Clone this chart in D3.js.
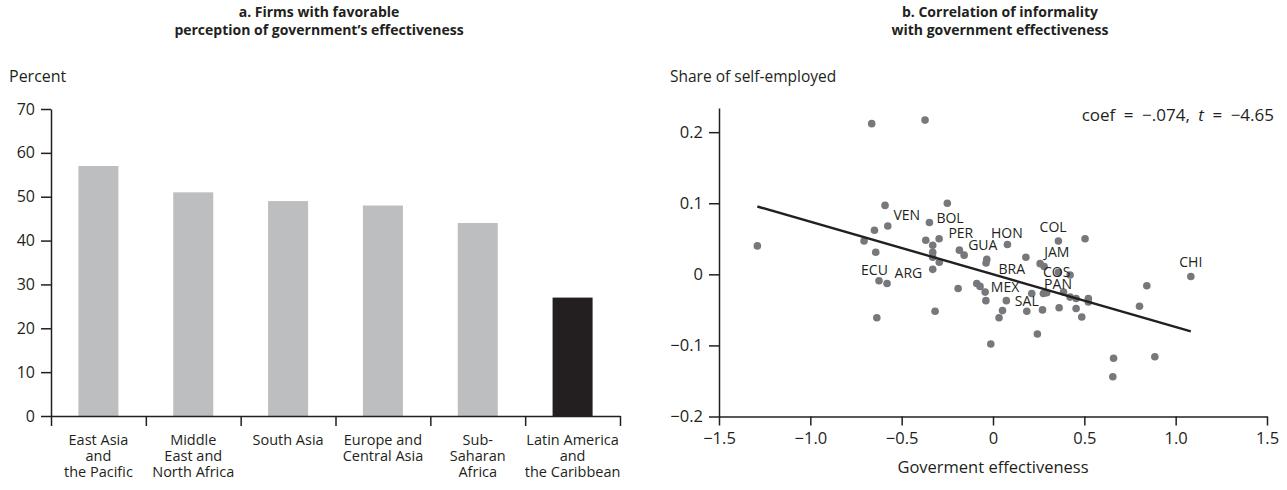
<!DOCTYPE html>
<html>
<head>
<meta charset="utf-8">
<script src="https://cdn.jsdelivr.net/npm/d3@7"></script>
<style>
  html, body { margin: 0; padding: 0; background: #fff; }
  svg { display: block; font-family: "Open Sans", "Noto Sans", sans-serif; }
  .axis path, .axis line { stroke: #231f20; stroke-width: 1.5; }
  .axis text { fill: #231f20; font-family: "Open Sans", "Noto Sans", sans-serif; }
</style>
</head>
<body>
<script>
// ---------- Panel a data ----------
const regions = ["East Asia|and|the Pacific", "Middle|East and|North Africa", "South Asia",
                 "Europe and|Central Asia", "Sub-|Saharan|Africa", "Latin America|and|the Caribbean"];
const favorable = [57, 51, 49, 48, 44, 27];
const highlight = [false, false, false, false, false, true];
const barTicks = [0, 10, 20, 30, 40, 50, 60, 70];

// ---------- Panel b data ----------
const effX = [-1.290, -0.664, -0.372, -0.591, -0.250, -0.348, -0.576, -0.649, -0.706, -0.642,
              -0.368, -0.295, -0.330, -0.330, -0.330, -0.294, -0.330, -0.184, -0.158, 0.079,
              0.180, -0.034, -0.038, 0.258, 0.280, 0.358, -0.624, -0.580, -0.191, -0.089,
              -0.071, -0.043, -0.039, 0.073, 0.052, 0.033, -0.317, -0.636, -0.012, 0.185,
              0.271, 0.362, 0.243, 0.212, 0.276, 0.294, 0.358, 0.504, 0.422, 0.386,
              0.422, 0.455, 0.522, 0.522, 0.455, 0.486, 0.842, 0.802, 1.083, 0.660,
              0.886, 0.656];
const selfEmp = [0.040, 0.212, 0.217, 0.097, 0.100, 0.073, 0.068, 0.062, 0.047, 0.031,
                 0.048, 0.050, 0.041, 0.031, 0.024, 0.017, 0.007, 0.034, 0.027, 0.042,
                 0.024, 0.021, 0.016, 0.015, 0.011, 0.003, -0.009, -0.013, -0.020, -0.013,
                 -0.017, -0.025, -0.037, -0.037, -0.051, -0.061, -0.052, -0.061, -0.098, -0.052,
                 -0.050, -0.047, -0.084, -0.027, -0.027, -0.026, 0.047, 0.050, -0.001, -0.025,
                 -0.032, -0.034, -0.034, -0.039, -0.048, -0.060, -0.016, -0.045, -0.003, -0.118,
                 -0.116, -0.144];
const countryCodes = ["VEN", "BOL", "PER", "HON", "COL", "GUA", "JAM", "ECU", "ARG", "BRA", "COS", "MEX", "PAN", "SAL", "CHI"];
const codeX = [-0.472, -0.235, -0.176, 0.076, 0.329, -0.056, 0.349, -0.649, -0.463, 0.103, 0.349, 0.066, 0.356, 0.185, 1.083];
const codeY = [0.084, 0.079, 0.058, 0.058, 0.067, 0.041, 0.031, 0.006, 0.002, 0.007, 0.004, -0.018, -0.014, -0.037, 0.017];
const fitCoef = -0.074;
const fitIntercept = 0.0;
const xTicksB = [-1.5, -1.0, -0.5, 0, 0.5, 1.0, 1.5];
const yTicksB = [-0.2, -0.1, 0, 0.1, 0.2];

const W = 1287, H = 490;
const ink = "#231f20";
const svg = d3.select("body").append("svg").attr("width", W).attr("height", H);

const minus = s => s.replace("-", "\u2212");

// ================= Panel a =================
const ga = svg.append("g");
const xa = d3.scaleBand().domain(regions).range([51, 620]).paddingInner(0.578).paddingOuter(0.289);
const ya = d3.scaleLinear().domain([0, 70]).range([416, 109]);
const xaLin = d3.scaleLinear().domain([0, regions.length]).range([51, 620]);

ga.append("text").attr("x", 319).attr("y", 17).attr("text-anchor", "middle")
  .attr("font-weight", "bold").attr("font-size", 14).attr("fill", ink)
  .text("a. Firms with favorable");
ga.append("text").attr("x", 319).attr("y", 35).attr("text-anchor", "middle")
  .attr("font-weight", "bold").attr("font-size", 14).attr("fill", ink)
  .text("perception of government\u2019s effectiveness");
ga.append("text").attr("x", 9).attr("y", 82).attr("font-size", 16).attr("fill", ink).text("Percent");

ga.selectAll("rect.bar").data(favorable).join("rect")
  .attr("class", "bar")
  .attr("x", (d, i) => xa(regions[i]))
  .attr("width", xa.bandwidth())
  .attr("y", d => ya(d))
  .attr("height", d => ya(0) - ya(d))
  .attr("fill", (d, i) => highlight[i] ? ink : "#bcbec0");

ga.append("g").attr("class", "axis").attr("transform", "translate(51,0)")
  .call(d3.axisLeft(ya).tickValues(barTicks).tickSize(10).tickSizeOuter(0).tickPadding(6))
  .call(g => g.selectAll("text").attr("font-size", 16));

ga.append("g").attr("class", "axis").attr("transform", "translate(0,416)")
  .call(d3.axisBottom(xaLin).tickValues(d3.range(regions.length + 1)).tickSize(10).tickSizeOuter(0).tickFormat(""));

regions.forEach((r, i) => {
  r.split("|").forEach((ln, j) => {
    ga.append("text").attr("text-anchor", "middle").attr("font-size", 14.5).attr("fill", ink)
      .attr("x", xa(r) + xa.bandwidth() / 2).attr("y", 445 + j * 16).text(ln);
  });
});

// ================= Panel b =================
const gb = svg.append("g");
const xb = d3.scaleLinear().domain([-1.5, 1.5]).range([719, 1267]);
const yb = d3.scaleLinear().domain([-0.2, 0.234]).range([416.5, 108]);

gb.append("text").attr("x", 1000).attr("y", 17).attr("text-anchor", "middle")
  .attr("font-weight", "bold").attr("font-size", 14).attr("fill", ink)
  .text("b. Correlation of informality");
gb.append("text").attr("x", 1000).attr("y", 35).attr("text-anchor", "middle")
  .attr("font-weight", "bold").attr("font-size", 14).attr("fill", ink)
  .text("with government effectiveness");
gb.append("text").attr("x", 670).attr("y", 82).attr("font-size", 15.5).attr("fill", ink).text("Share of self-employed");

gb.append("g").attr("class", "axis").attr("transform", "translate(719,0)")
  .call(d3.axisLeft(yb).tickValues(yTicksB).tickSize(10).tickSizeOuter(0).tickPadding(6)
    .tickFormat(d => d === 0 ? "0" : minus(d3.format(".1f")(d))))
  .call(g => g.selectAll("text").attr("font-size", 16.5));

gb.append("g").attr("class", "axis").attr("transform", "translate(0,416.5)")
  .call(d3.axisBottom(xb).tickValues(xTicksB).tickSize(9).tickSizeOuter(0).tickPadding(7)
    .tickFormat(d => d === 0 ? "0" : minus(d3.format(".1f")(d))))
  .call(g => g.selectAll("text").attr("font-size", 16.5));

gb.append("text").attr("x", 993).attr("y", 473).attr("text-anchor", "middle")
  .attr("font-size", 16.5).attr("fill", ink).text("Goverment effectiveness");

// points
const pts = effX.map((x, i) => ({x, y: selfEmp[i]}));
gb.selectAll("circle.pt").data(pts).join("circle")
  .attr("class", "pt")
  .attr("cx", d => xb(d.x)).attr("cy", d => yb(d.y)).attr("r", 3.8)
  .attr("fill", "#77787b");

// fit line
const xExt = d3.extent(effX);
const fit = xExt.map(x => ({x, y: fitIntercept + fitCoef * x}));
gb.append("path").datum(fit)
  .attr("d", d3.line().x(d => xb(d.x)).y(d => yb(d.y)))
  .attr("stroke", ink).attr("stroke-width", 2.4).attr("fill", "none");

// country labels
gb.selectAll("text.code").data(countryCodes).join("text")
  .attr("class", "code")
  .attr("x", (d, i) => xb(codeX[i])).attr("y", (d, i) => yb(codeY[i]))
  .attr("dy", "0.36em").attr("text-anchor", "middle")
  .attr("font-size", 14).attr("fill", ink)
  .text(d => d);

// coefficient text
const ct = gb.append("text").attr("x", 1274).attr("y", 121).attr("text-anchor", "end")
  .attr("font-size", 17).attr("fill", ink);
ct.append("tspan").text("coef\u2002=\u2002\u2212.074,\u2002");
ct.append("tspan").attr("font-style", "italic").text("t");
ct.append("tspan").text("\u2002=\u2002\u22124.65");
</script>
</body>
</html>
